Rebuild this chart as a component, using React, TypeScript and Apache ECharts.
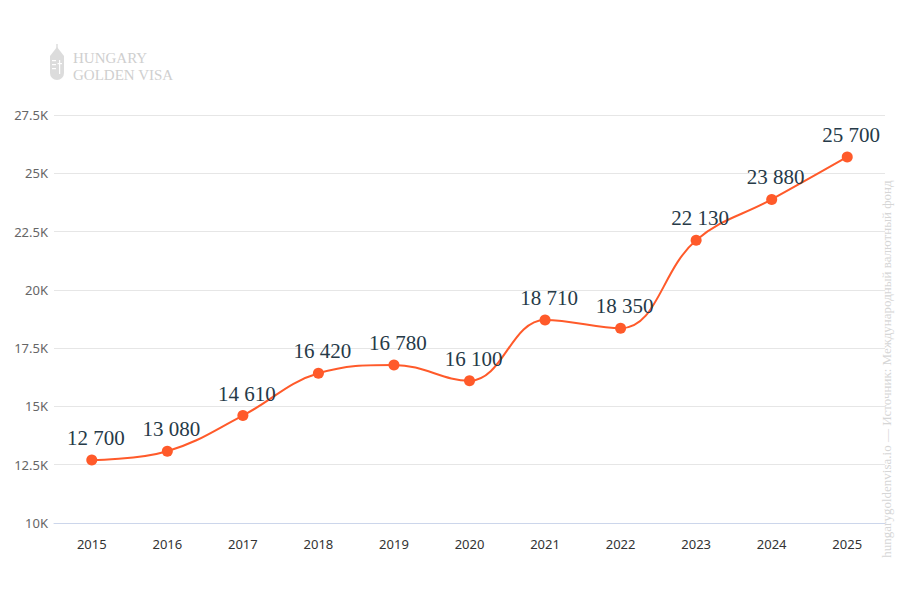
import React, { useEffect, useRef } from "react";
import * as echarts from "echarts";

const years = ["2015", "2016", "2017", "2018", "2019", "2020", "2021", "2022", "2023", "2024", "2025"];
const values = [12700, 13080, 14610, 16420, 16780, 16100, 18710, 18350, 22130, 23880, 25700];
const yMin = 10000;
const yMax = 27500;
const yStep = 2500;
const sourceText = "hungarygoldenvisa.io — Источник: Международный валютный фонд";

function fmtSpace(v: number) {
  return String(v).replace(/\B(?=(\d{3})+(?!\d))/g, " ");
}

export default function App() {
  const ref = useRef<HTMLDivElement>(null);
  useEffect(() => {
    if (!ref.current) return;
    const chart = echarts.init(ref.current, null, { renderer: "svg" });
    const logoColor = "#dcdcdc";
    chart.setOption({
      animation: false,
      backgroundColor: "#ffffff",
      grid: { left: 54, right: 15, top: 115, bottom: 77 },
      xAxis: {
        type: "category",
        data: years,
        boundaryGap: true,
        axisLine: { lineStyle: { color: "#ccd6eb" } },
        axisTick: { show: false },
        axisLabel: { color: "#333333", fontSize: 13, margin: 14, fontFamily: "Noto Sans, sans-serif" },
      },
      yAxis: {
        type: "value",
        min: yMin,
        max: yMax,
        interval: yStep,
        axisLine: { show: false },
        axisTick: { show: false },
        splitLine: { lineStyle: { color: "#e6e6e6" } },
        axisLabel: {
          color: "#666666",
          fontSize: 13,
          margin: 6,
          fontFamily: "Noto Sans, sans-serif",
          formatter: (v: number) => v / 1000 + "K",
        },
      },
      series: [
        {
          type: "line",
          data: values,
          smooth: 0.4,
          symbol: "circle",
          symbolSize: 11,
          itemStyle: { color: "#ff5a2a" },
          lineStyle: { color: "#ff5a2a", width: 2 },
          label: {
            show: true,
            position: "top",
            distance: 6,
            offset: [4, 0],
            color: "#263a48",
            fontSize: 21,
            fontFamily: "Liberation Serif, serif",
            formatter: (p: any) => fmtSpace(p.value),
          },
        },
      ],
      graphic: [
        {
          type: "group",
          left: 50,
          top: 44,
          children: [
            { type: "rect", shape: { x: 2, y: 12, width: 14, height: 24, r: [0, 0, 7, 7] }, style: { fill: logoColor } },
            { type: "polygon", shape: { points: [[2, 12], [9, 3], [16, 12]] }, style: { fill: logoColor } },
            { type: "rect", shape: { x: 8.3, y: 0, width: 1.4, height: 5 }, style: { fill: logoColor } },
            { type: "rect", shape: { x: 4, y: 16, width: 4, height: 1.2 }, style: { fill: "#ffffff" } },
            { type: "rect", shape: { x: 4, y: 20, width: 4, height: 1.2 }, style: { fill: "#ffffff" } },
            { type: "rect", shape: { x: 4, y: 24, width: 4, height: 1.2 }, style: { fill: "#ffffff" } },
            { type: "rect", shape: { x: 11, y: 16, width: 1.2, height: 14 }, style: { fill: "#ffffff" } },
            { type: "rect", shape: { x: 9.5, y: 19, width: 4.5, height: 1.2 }, style: { fill: "#ffffff" } },
          ],
        },
        {
          type: "text",
          left: 73,
          top: 50,
          style: { text: "HUNGARY", fill: "#cfcfcf", fontSize: 15, fontFamily: "Liberation Serif, serif" },
        },
        {
          type: "text",
          left: 73,
          top: 67,
          style: { text: "GOLDEN VISA", fill: "#cfcfcf", fontSize: 15, fontFamily: "Liberation Serif, serif" },
        },
        {
          type: "text",
          x: 886,
          y: 369,
          rotation: Math.PI / 2,
          style: {
            text: sourceText,
            fill: "#d6d6d6",
            fontSize: 13,
            fontFamily: "Liberation Serif, serif",
            align: "center",
            verticalAlign: "middle",
          },
        },
      ],
    });
    return () => chart.dispose();
  }, []);
  return <div ref={ref} style={{ width: 900, height: 600, position: "absolute", left: 0, top: 0 }} />;
}
